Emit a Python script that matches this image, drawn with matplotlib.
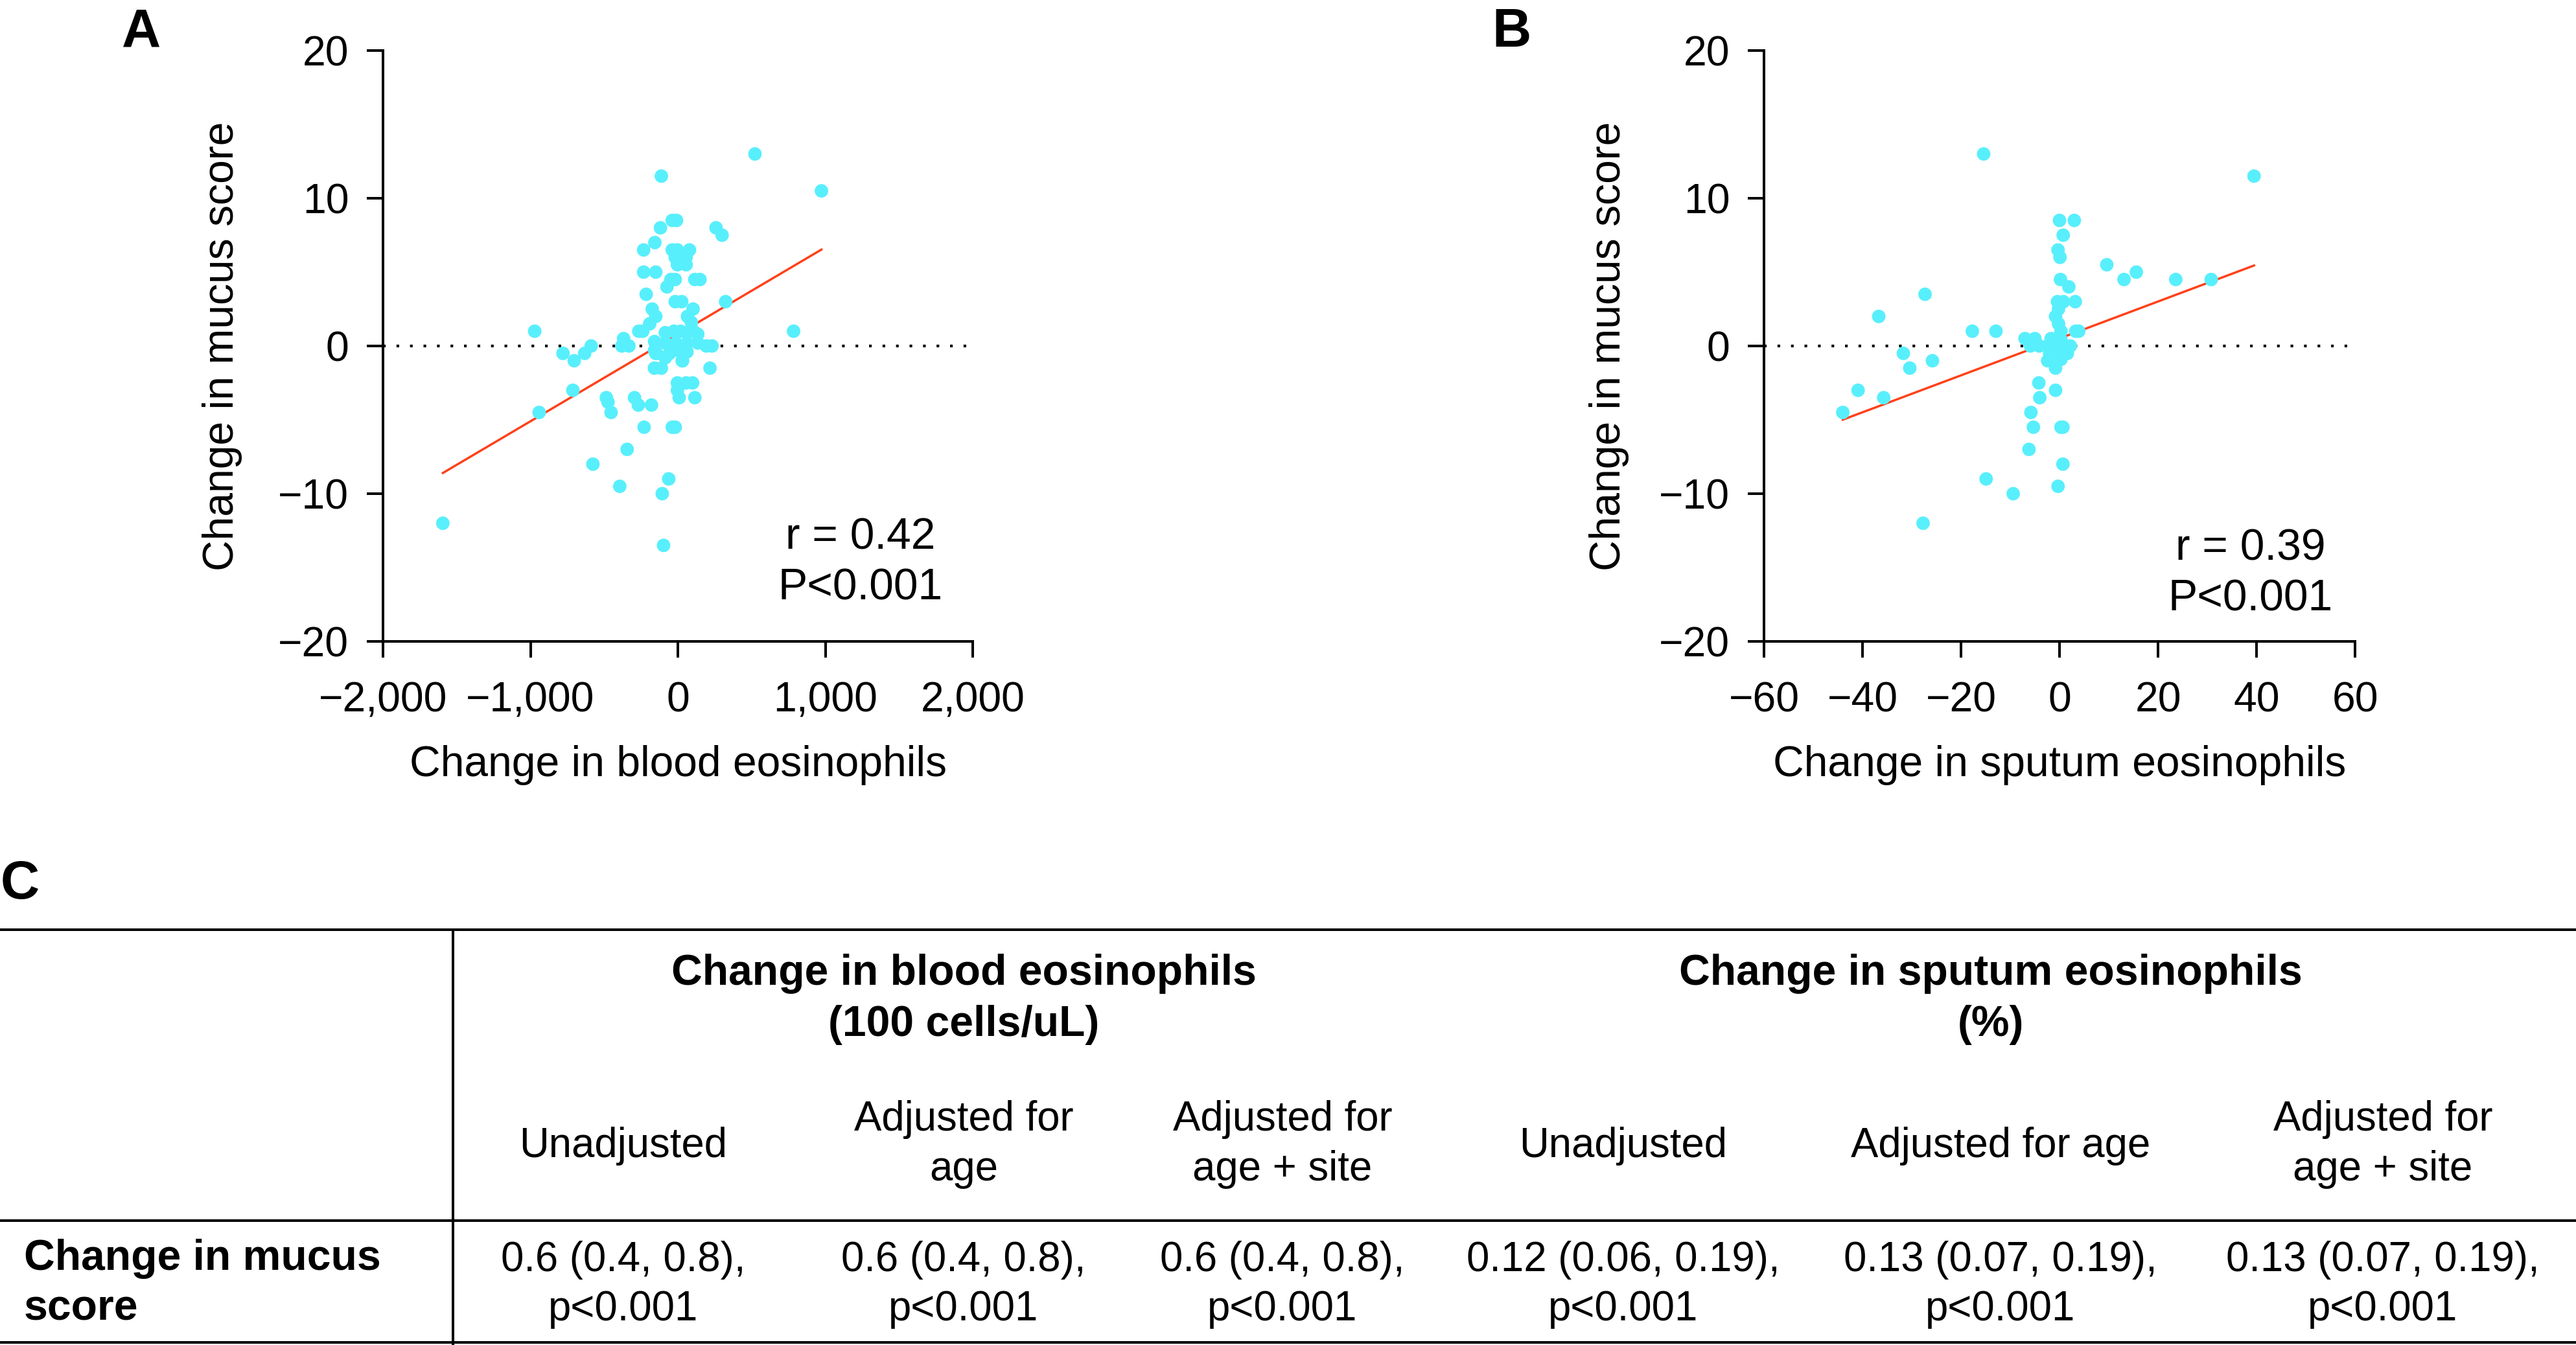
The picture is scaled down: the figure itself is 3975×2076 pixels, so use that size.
import numpy as np
import matplotlib
matplotlib.use('Agg')
import matplotlib.pyplot as plt
from matplotlib.ticker import FuncFormatter, MultipleLocator

plt.rcParams['font.family'] = ['Liberation Sans', 'DejaVu Sans']

# ---- panel A: change in blood eosinophils vs change in mucus score
blood_x = [523, -112, 974, -38, -9, -118, 259, 300, -156, -232, -38, -3, 79, -18, 56,
           -3, 56, -232, -150, -47, -18, 115, 150, -74, -215, -18, 26, 324, -174, 103,
           -150, 65, -191, -265, -238, -971, 785, -368, -588, -380, -332, 232, -779, -632,
           -703, -150, 29, -159, -112, 218, -3, 56, 100, -3, -712, -485, -474, -294, -268,
           -179, 9, 115, -941, -453, -229, -38, -18, -344, -576, -62, -394, -106, -1594, -97,
           -158, -158, -85, -26, 18, 62, 105, 135, 135, 193, -85, -13, 62, -144, -56, 3, 62,
           32, -85, 91]
blood_y = [13.0, 11.5, 10.5, 8.5, 8.5, 8.0, 8.0, 7.5, 7.0, 6.5, 6.5, 6.5, 6.5, 6.0, 6.0,
           5.5, 5.5, 5.0, 5.0, 4.5, 4.5, 4.5, 4.5, 4.0, 3.5, 3.0, 3.0, 3.0, 2.5, 2.5,
           2.0, 2.0, 1.5, 1.0, 1.0, 1.0, 1.0, 0.5, 0.0, 0.0, 0.0, 0.0, -0.5, -0.5,
           -1.0, -0.5, -1.0, -1.5, -1.5, -1.5, -2.5, -2.5, -2.5, -3.0, -3.0, -3.5, -3.8, -3.5, -4.0,
           -4.0, -3.5, -3.5, -4.5, -4.5, -5.5, -5.5, -5.5, -7.0, -8.0, -9.0, -9.5, -10.0, -12.0, -13.5,
           0.3, -0.3, 0.9, 1.0, 1.0, 0.9, 1.0, 0.8, 0.2, 0.0, 0.2, 0.2, 0.2, -0.5, -0.5, -0.3, -0.4,
           -1.0, -0.8, 1.6]
fit_blood = (0.00589, 0.79)   # slope, intercept of the drawn regression line

# ---- panel B: change in sputum eosinophils vs change in mucus score
sputum_x = [-15.4, 39.5, 0.0, 3.0, 0.75, -0.3, 0.1, 9.6, 15.6, 13.1, 23.6, 30.8, 0.2, 1.9,
            -27.3, -0.4, 0.8, 3.2, -0.2, -0.8, -36.7, -0.2, -17.7, -12.9, 3.3, 3.9, 0.3,
            -7.0, -5.0, -1.7, 0.3, -5.9, -4.1, -2.4, -0.6, 1.2, 2.2, -2.0, 0.3, 1.6, -31.7,
            -25.8, -30.4, -2.4, 0.3, -0.8, -4.2, -40.9, -0.8, -35.7, -4.0, -44.0, -5.8, -5.3,
            0.3, 0.7, -6.2, 0.7, -14.9, -0.3, -9.4, -27.7]
sputum_y = [13.0, 11.5, 8.5, 8.5, 7.5, 6.5, 6.0, 5.5, 5.0, 4.5, 4.5, 4.5, 4.5, 4.0,
            3.5, 3.0, 3.0, 3.0, 2.5, 2.0, 2.0, 1.5, 1.0, 1.0, 1.0, 1.0, 1.0,
            0.5, 0.5, 0.5, 0.4, 0.0, 0.0, 0.0, 0.0, 0.0, 0.0, -0.5, -0.5, -0.5, -0.5,
            -1.0, -1.5, -1.0, -0.9, -1.5, -2.5, -3.0, -3.0, -3.5, -3.5, -4.5, -4.5, -5.5,
            -5.5, -5.5, -7.0, -8.0, -9.0, -9.5, -10.0, -12.0]
fit_sputum = (0.125, 0.51)

# ---- panel C table
group_headers = ['Change in blood eosinophils\n(100 cells/uL)',
                 'Change in sputum eosinophils\n(%)']
col_headers = ['Unadjusted', 'Adjusted for\nage', 'Adjusted for\nage + site',
               'Unadjusted', 'Adjusted for age', 'Adjusted for\nage + site']
row_label = 'Change in mucus\nscore'
cells = ['0.6 (0.4, 0.8),\np<0.001', '0.6 (0.4, 0.8),\np<0.001', '0.6 (0.4, 0.8),\np<0.001',
         '0.12 (0.06, 0.19),\np<0.001', '0.13 (0.07, 0.19),\np<0.001',
         '0.13 (0.07, 0.19),\np<0.001']

CYAN = '#58EFFC'
RED = '#FF4019'
W, H, DPI = 3975, 2076, 250

fig = plt.figure(figsize=(W / DPI, H / DPI), dpi=DPI)


def px_rect(x0, y0, x1, y1):
    return [x0 / W, 1 - y1 / H, (x1 - x0) / W, (y1 - y0) / H]


def fmt(v, pos):
    return f'{v:,.0f}'.replace('-', '\u2212')


def scatter_panel(ax, x, y, fit, xlim, xstep, xlabel, ylab_x, r_txt, txt_x, txt_y):
    ax.axhline(0, color='black', lw=1.2, ls=(0, (1, 4)), zorder=1)
    xs = np.array([min(x), max(x)])
    ax.plot(xs, fit[0] * xs + fit[1], color=RED, lw=1.0, zorder=2)
    ax.scatter(x, y, s=36, color=CYAN, edgecolors='none', zorder=3)
    ax.set_xlim(*xlim)
    ax.set_ylim(-20, 20)
    ax.xaxis.set_major_locator(MultipleLocator(xstep))
    ax.yaxis.set_major_locator(MultipleLocator(10))
    ax.xaxis.set_major_formatter(FuncFormatter(fmt))
    ax.yaxis.set_major_formatter(FuncFormatter(fmt))
    for s in ['top', 'right']:
        ax.spines[s].set_visible(False)
    for s in ['left', 'bottom']:
        ax.spines[s].set_linewidth(1.15)
    ax.tick_params(axis='both', length=7.2, width=1.15, labelsize=18.5)
    ax.tick_params(axis='x', pad=10.5)
    ax.tick_params(axis='y', pad=8)
    ax.set_xlabel(xlabel, fontsize=19, va='center')
    ax.xaxis.set_label_coords(0.5, -0.209)
    ax.set_ylabel('Change in mucus score', fontsize=19, va='center')
    ax.yaxis.set_label_coords(ylab_x, 0.5)
    ax.text(txt_x, txt_y[0], r_txt, transform=ax.transAxes, ha='center',
            va='center', fontsize=19.5)
    ax.text(txt_x, txt_y[1], 'P<0.001', transform=ax.transAxes, ha='center',
            va='center', fontsize=19.5)


ax_a = fig.add_axes(px_rect(591, 78, 1501, 990))
scatter_panel(ax_a, blood_x, blood_y, fit_blood, (-2000, 2000), 1000,
              'Change in blood eosinophils', -0.272, 'r = 0.42', 0.809, (0.1765, 0.0905))

ax_b = fig.add_axes(px_rect(2722, 78, 3634, 990))
scatter_panel(ax_b, sputum_x, sputum_y, fit_sputum, (-60, 60), 20,
              'Change in sputum eosinophils', -0.262, 'r = 0.39', 0.823, (0.157, 0.0713))

# table drawn in pixel coordinates
ax_t = fig.add_axes([0, 0, 1, 1], zorder=-1)
ax_t.set_xlim(0, W)
ax_t.set_ylim(H, 0)
ax_t.axis('off')

for lbl, (x, y) in zip('ABC', [(218, 72), (2332, 72), (31, 1387)]):
    ax_t.text(x, y, lbl, fontsize=24, fontweight='bold', ha='center', va='baseline')

lw_t = 1.15
ax_t.plot([0, W], [1435, 1435], color='black', lw=lw_t)
ax_t.plot([0, W], [1884, 1884], color='black', lw=lw_t)
ax_t.plot([0, W], [2072, 2072], color='black', lw=lw_t)
ax_t.plot([699, 699], [1435, 2076], color='black', lw=lw_t)


def put_lines(x, base0, step, text, **kw):
    for i, line in enumerate(text.split('\n')):
        ax_t.text(x, base0 + i * step, line, va='baseline', **kw)


group_x = [1487, 3072]
for gx, g in zip(group_x, group_headers):
    put_lines(gx, 1520, 79, g, ha='center', fontsize=19, fontweight='bold')

col_x = [962, 1487, 1979, 2505, 3087, 3677]
for cx, c in zip(col_x, col_headers):
    if '\n' in c:
        put_lines(cx, 1745, 77, c, ha='center', fontsize=18.3)
    else:
        put_lines(cx, 1786, 77, c, ha='center', fontsize=18.3)

put_lines(37, 1960, 78, row_label, ha='left', fontsize=19, fontweight='bold')
for cx, c in zip(col_x, cells):
    put_lines(cx, 1962, 76, c, ha='center', fontsize=18.3)

fig.savefig('out.png', dpi=DPI)
